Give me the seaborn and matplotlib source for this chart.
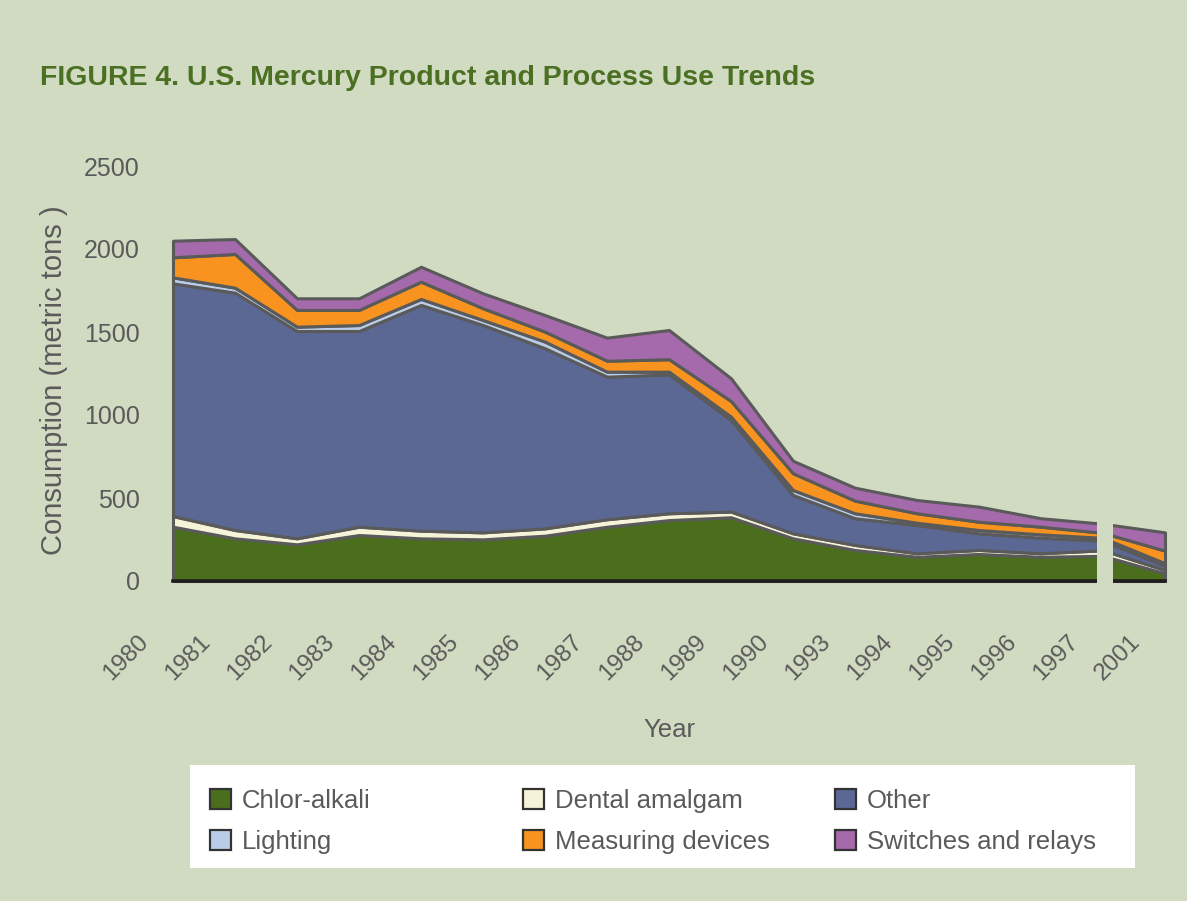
"""
Mercury use trends: stacked area chart, rebuilt from the reference figure.
"""
import matplotlib

matplotlib.use("Agg")
import matplotlib.pyplot as plt
import matplotlib.transforms as mtransforms
from matplotlib.patches import Patch, Rectangle
import numpy as np
import seaborn as sns

# --- Data (metric tons) ---
YEARS = ["1980", "1981", "1982", "1983", "1984", "1985", "1986", "1987", "1988",
         "1989", "1990", "1993", "1994", "1995", "1996", "1997", "2001"]
CHLOR_ALKALI = [327, 257, 221, 277, 257, 251, 273, 327, 367, 384, 257, 187, 146, 163, 146, 152, 46]
DENTAL = [64, 50, 36, 50, 46, 42, 44, 45, 41, 34, 30, 30, 21, 24, 21, 33, 20]
OTHER = [1402, 1430, 1249, 1179, 1360, 1249, 1085, 859, 837, 552, 231, 161, 170, 100, 94, 57, 26]
LIGHTING = [36, 30, 26, 36, 36, 30, 40, 30, 16, 20, 30, 30, 14, 20, 20, 18, 15]
MEASURING = [121, 203, 101, 91, 104, 71, 60, 66, 75, 94, 101, 76, 57, 50, 46, 30, 76]
SWITCHES = [100, 90, 70, 70, 90, 90, 100, 139, 176, 137, 75, 78, 80, 91, 51, 55, 110]

SERIES_NAMES = ["Chlor-alkali", "Dental amalgam", "Other", "Lighting",
                "Measuring devices", "Switches and relays"]
COLORS = ["#4a6e1c", "#f6f4d8", "#5a6893", "#b9cce8", "#f7931e", "#a46aab"]

BG = "#d0dbc1"
EDGE = "#5a5a5a"
TEXT = "#5a5a5a"
TITLE_GREEN = "#4b7024"

sns.set_theme(style="white", rc={"axes.facecolor": BG, "figure.facecolor": BG})
plt.rcParams["font.family"] = ["Liberation Sans", "DejaVu Sans"]

fig = plt.figure(figsize=(11.87, 9.01), dpi=100)
ax = fig.add_axes([173 / 1187, 1 - 581 / 901, 992 / 1187, 415 / 901])

x = np.arange(len(YEARS))
polys = ax.stackplot(x, CHLOR_ALKALI, DENTAL, OTHER, LIGHTING, MEASURING, SWITCHES,
                     colors=COLORS, edgecolor=EDGE, linewidth=2.2)
for p in polys:
    p.set_clip_on(False)

ax.set_xlim(0, len(YEARS) - 1)
ax.set_ylim(0, 2500)
ax.set_yticks([0, 500, 1000, 1500, 2000, 2500])
ax.set_xticks(x)
ax.set_xticklabels(YEARS, rotation=45, ha="right", va="top")
ax.tick_params(axis="both", length=0, labelcolor=TEXT)
ax.tick_params(axis="y", pad=24, labelsize=18)
ax.tick_params(axis="x", pad=36, labelsize=17.5)

# labels sit to the left of their year, like the original
offset = mtransforms.ScaledTranslation(-0.2, 0, fig.dpi_scale_trans)
for lab in ax.get_xticklabels():
    lab.set_transform(lab.get_transform() + offset)

for side in ["top", "right", "left"]:
    ax.spines[side].set_visible(False)
ax.spines["bottom"].set_color("#1e1e1e")
ax.spines["bottom"].set_linewidth(2.6)

ax.set_xlabel("Year", fontsize=18.5, color=TEXT)
ax.xaxis.set_label_coords(0.5, -0.33)
ax.set_ylabel("Consumption (metric tons )", fontsize=21, color=TEXT)
ax.yaxis.set_label_coords(-0.12, 0.484)
ax.yaxis.label.set_va("center")

# axis break between 1997 and 2001
ax.add_patch(Rectangle((14.9, -0.03), 0.26, 1.03, transform=ax.get_xaxis_transform(),
                       facecolor=BG, edgecolor="none", clip_on=False, zorder=5))

fig.text(40 / 1187, 1 - 78 / 901, "FIGURE 4. U.S. Mercury Product and Process Use Trends",
         fontsize=20.5, fontweight="bold", color=TITLE_GREEN, va="center", ha="left")

# legend: white box with three evenly spaced columns
fig.add_artist(Rectangle((190 / 1187, 1 - 868 / 901), 945 / 1187, 103 / 901,
                         transform=fig.transFigure, facecolor="white", edgecolor="none",
                         zorder=1))
handles = [Patch(facecolor=c, edgecolor="#333333", linewidth=1.6) for c in COLORS]
col_x = [210, 523, 835]
for i, cx in enumerate(col_x):
    idx = [i, i + 3]
    leg = fig.legend([handles[j] for j in idx], [SERIES_NAMES[j] for j in idx],
                     loc="upper left", bbox_to_anchor=(cx / 1187, 1 - 789 / 901),
                     frameon=False, fontsize=18.5, handlelength=0.8, handleheight=0.8,
                     handletextpad=0.45, labelspacing=0.65, borderpad=0, borderaxespad=0)
    for t in leg.get_texts():
        t.set_color(TEXT)
    leg.set_zorder(2)

fig.savefig("out.png", dpi=100, facecolor=BG)
